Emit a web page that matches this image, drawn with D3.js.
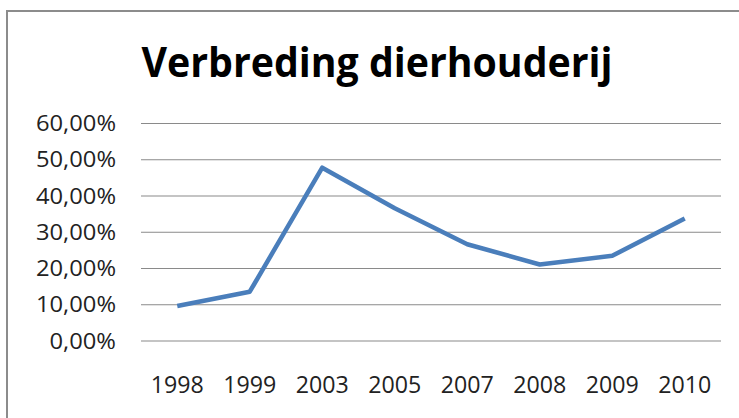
<!DOCTYPE html>
<html>
<head>
<meta charset="utf-8">
<script src="https://cdn.jsdelivr.net/npm/d3@7"></script>
<style>
  body { margin: 0; background: #fff; }
  svg { display: block; }
  text { font-family: "Open Sans", "DejaVu Sans", sans-serif; }
</style>
</head>
<body>
<div id="chart"></div>
<script>
const years = ["1998", "1999", "2003", "2005", "2007", "2008", "2009", "2010"];
const values = [0.0965, 0.136, 0.478, 0.366, 0.267, 0.211, 0.235, 0.338];
const yTicks = [0, 0.1, 0.2, 0.3, 0.4, 0.5, 0.6];
const title = "Verbreding dierhouderij";

const width = 739, height = 418;
const plot = { left: 141, right: 721, top: 123.5, bottom: 341 };

const svg = d3.select("#chart").append("svg")
  .attr("width", width)
  .attr("height", height);

// chart frame (runs off the right and bottom edge)
svg.append("rect")
  .attr("x", 7).attr("y", 11)
  .attr("width", 780).attr("height", 440)
  .attr("fill", "#fff")
  .attr("stroke", "#8c8c8c")
  .attr("stroke-width", 2);

const x = d3.scaleBand()
  .domain(years)
  .range([plot.left, plot.right]);

const y = d3.scaleLinear()
  .domain([0, 0.6])
  .range([plot.bottom, plot.top]);

const fmt = v => d3.format(".2f")(v * 100).replace(".", ",") + "%";

// gridlines
svg.append("g")
  .selectAll("line")
  .data(yTicks)
  .join("line")
  .attr("x1", plot.left).attr("x2", plot.right)
  .attr("y1", d => y(d)).attr("y2", d => y(d))
  .attr("stroke", "#8a8a8a")
  .attr("stroke-width", 1.2);

// y labels, stretched a bit wider like the source (Calibri upscaled)
const yLabels = svg.append("g")
  .selectAll("text")
  .data(yTicks)
  .join("text")
  .attr("x", 116)
  .attr("y", d => y(d))
  .attr("dy", "0.36em")
  .attr("text-anchor", "end")
  .attr("font-size", 21)
  .attr("fill", "#222")
  .text(fmt);

const stretch = 80 / d3.max(yLabels.nodes(), n => n.getComputedTextLength());
yLabels.each(function () {
  d3.select(this)
    .attr("textLength", this.getComputedTextLength() * stretch)
    .attr("lengthAdjust", "spacingAndGlyphs");
});

// x labels
svg.append("g")
  .selectAll("text")
  .data(years)
  .join("text")
  .attr("x", d => x(d) + x.bandwidth() / 2)
  .attr("y", 393)
  .attr("text-anchor", "middle")
  .attr("font-size", 24)
  .attr("fill", "#222")
  .attr("textLength", 53)
  .attr("lengthAdjust", "spacingAndGlyphs")
  .text(d => d);

// line
const line = d3.line()
  .x((d, i) => x(years[i]) + x.bandwidth() / 2)
  .y(d => y(d));

svg.append("path")
  .datum(values)
  .attr("d", line)
  .attr("fill", "none")
  .attr("stroke", "#4a7ebb")
  .attr("stroke-width", 4.5)
  .attr("stroke-linejoin", "round");

// title
svg.append("text")
  .attr("x", 377)
  .attr("y", 77)
  .attr("text-anchor", "middle")
  .attr("font-size", 41)
  .attr("font-weight", "bold")
  .attr("fill", "#000")
  .attr("textLength", 471)
  .attr("lengthAdjust", "spacingAndGlyphs")
  .text(title);
</script>
</body>
</html>
